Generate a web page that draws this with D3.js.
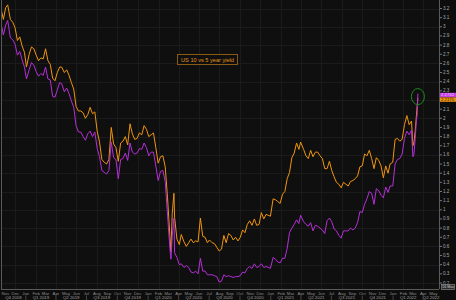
<!DOCTYPE html>
<html><head><meta charset="utf-8">
<script src="https://cdn.jsdelivr.net/npm/d3@7"></script>
<style>html,body{margin:0;padding:0;background:#0d0d0d;overflow:hidden}svg{display:block}</style>
</head><body><svg id="c" width="456" height="300"></svg>
<script>
const title = "US 10 vs 5 year yield";
const dates = ["2018-10-19","2018-10-26","2018-11-02","2018-11-08","2018-11-16","2018-11-23","2018-11-30","2018-12-07","2018-12-14","2018-12-21","2018-12-28",
"2019-01-03","2019-01-11","2019-01-18","2019-01-25","2019-02-01","2019-02-08","2019-02-15","2019-02-22","2019-03-01","2019-03-08","2019-03-15","2019-03-22","2019-03-29",
"2019-04-05","2019-04-12","2019-04-18","2019-04-26","2019-05-03","2019-05-10","2019-05-17","2019-05-24","2019-05-31","2019-06-07","2019-06-14","2019-06-21","2019-06-28",
"2019-07-05","2019-07-12","2019-07-19","2019-07-26","2019-08-02","2019-08-09","2019-08-16","2019-08-23","2019-08-30","2019-09-06","2019-09-13","2019-09-20","2019-09-27",
"2019-10-04","2019-10-11","2019-10-18","2019-10-25","2019-11-01","2019-11-08","2019-11-15","2019-11-22","2019-11-29","2019-12-06","2019-12-13","2019-12-20","2019-12-27",
"2020-01-03","2020-01-10","2020-01-17","2020-01-24","2020-01-31","2020-02-07","2020-02-14","2020-02-21","2020-02-28","2020-03-06","2020-03-09","2020-03-13","2020-03-18","2020-03-20","2020-03-27",
"2020-04-03","2020-04-09","2020-04-17","2020-04-24","2020-05-01","2020-05-08","2020-05-15","2020-05-22","2020-05-29","2020-06-05","2020-06-12","2020-06-19","2020-06-26",
"2020-07-02","2020-07-10","2020-07-17","2020-07-24","2020-07-31","2020-08-07","2020-08-14","2020-08-21","2020-08-28","2020-09-04","2020-09-11","2020-09-18","2020-09-25",
"2020-10-02","2020-10-09","2020-10-16","2020-10-23","2020-10-30","2020-11-06","2020-11-13","2020-11-20","2020-11-27","2020-12-04","2020-12-11","2020-12-18","2020-12-24","2020-12-31",
"2021-01-08","2021-01-15","2021-01-22","2021-01-29","2021-02-05","2021-02-12","2021-02-19","2021-02-26","2021-03-05","2021-03-12","2021-03-19","2021-03-26","2021-03-31",
"2021-04-09","2021-04-16","2021-04-23","2021-04-30","2021-05-07","2021-05-14","2021-05-21","2021-05-28","2021-06-04","2021-06-11","2021-06-18","2021-06-25",
"2021-07-02","2021-07-09","2021-07-16","2021-07-23","2021-07-30","2021-08-06","2021-08-13","2021-08-20","2021-08-27","2021-09-03","2021-09-10","2021-09-17","2021-09-24",
"2021-10-01","2021-10-08","2021-10-15","2021-10-22","2021-10-29","2021-11-05","2021-11-12","2021-11-19","2021-11-26","2021-12-03","2021-12-10","2021-12-17","2021-12-23","2021-12-31",
"2022-01-07","2022-01-14","2022-01-21","2022-01-28","2022-02-04","2022-02-11","2022-02-18","2022-02-25","2022-03-01","2022-03-04","2022-03-08","2022-03-11","2022-03-14","2022-03-16"];
const tenYear = [3.20,3.08,3.21,3.24,3.08,3.05,2.99,2.85,2.89,2.79,2.72,
2.56,2.70,2.78,2.76,2.69,2.63,2.66,2.65,2.76,2.63,2.59,2.44,2.41,
2.50,2.56,2.56,2.50,2.53,2.47,2.39,2.32,2.13,2.08,2.08,2.06,2.00,
2.04,2.12,2.05,2.07,1.86,1.74,1.55,1.52,1.50,1.55,1.90,1.72,1.68,
1.53,1.73,1.75,1.80,1.71,1.94,1.83,1.77,1.78,1.84,1.82,1.92,1.88,
1.80,1.82,1.84,1.68,1.51,1.58,1.59,1.47,1.13,0.71,0.54,0.96,1.18,0.92,0.68,
0.62,0.73,0.65,0.60,0.64,0.68,0.64,0.66,0.65,0.91,0.71,0.70,0.64,
0.67,0.64,0.63,0.59,0.55,0.57,0.72,0.64,0.74,0.72,0.67,0.70,0.66,
0.70,0.78,0.75,0.84,0.88,0.83,0.90,0.83,0.84,0.97,0.90,0.95,0.94,0.93,
1.12,1.11,1.09,1.07,1.17,1.20,1.34,1.41,1.57,1.62,1.73,1.66,1.74,
1.66,1.59,1.56,1.65,1.58,1.63,1.63,1.59,1.56,1.45,1.45,1.53,
1.43,1.36,1.30,1.28,1.24,1.30,1.28,1.26,1.31,1.32,1.34,1.37,1.47,
1.48,1.61,1.59,1.65,1.56,1.45,1.57,1.54,1.48,1.35,1.48,1.40,1.50,1.52,
1.77,1.78,1.75,1.77,1.93,2.03,1.93,1.97,1.70,1.73,1.86,2.00,2.14,2.22];
const fiveYear = [3.04,2.91,3.02,3.07,2.88,2.86,2.81,2.69,2.73,2.64,2.56,
2.43,2.53,2.61,2.58,2.51,2.46,2.49,2.47,2.56,2.43,2.42,2.24,2.23,
2.31,2.39,2.38,2.29,2.33,2.27,2.19,2.12,1.92,1.85,1.85,1.80,1.76,
1.83,1.86,1.80,1.85,1.67,1.58,1.43,1.41,1.39,1.43,1.74,1.57,1.55,
1.34,1.55,1.56,1.62,1.54,1.73,1.63,1.61,1.62,1.67,1.66,1.73,1.68,
1.59,1.63,1.63,1.48,1.32,1.42,1.43,1.31,0.94,0.58,0.46,0.72,0.91,0.53,0.48,
0.40,0.41,0.37,0.39,0.37,0.32,0.31,0.33,0.30,0.47,0.33,0.33,0.29,
0.29,0.29,0.28,0.27,0.21,0.22,0.29,0.27,0.28,0.27,0.26,0.27,0.27,
0.28,0.32,0.31,0.36,0.38,0.36,0.41,0.37,0.38,0.41,0.37,0.38,0.37,0.36,
0.48,0.46,0.43,0.42,0.47,0.47,0.58,0.75,0.80,0.84,0.89,0.85,0.94,
0.87,0.84,0.82,0.86,0.77,0.83,0.82,0.80,0.78,0.74,0.88,0.91,
0.87,0.79,0.77,0.72,0.69,0.77,0.77,0.77,0.80,0.78,0.80,0.86,0.98,
0.97,1.06,1.12,1.20,1.18,1.06,1.23,1.21,1.16,1.13,1.25,1.19,1.26,1.26,
1.50,1.55,1.56,1.61,1.78,1.86,1.82,1.87,1.58,1.60,1.78,1.95,2.05,2.27];
const yTicks = [0.2,0.3,0.4,0.5,0.6,0.7,0.8,0.9,1,1.1,1.2,1.3,1.4,1.5,1.6,1.7,1.8,1.9,2,2.1,2.2,2.3,2.4,2.5,2.6,2.7,2.8,2.9,3,3.1,3.2];
const monthNames = ["Jan","Feb","Mar","Apr","May","Jun","Jul","Aug","Sep","Oct","Nov","Dec"];
const lastLabels = ["2.2732","2.2175"];
const dateBox = "16 Mar";

const svg = d3.select("#c");
const W = 456, H = 300;
const parse = d3.timeParse("%Y-%m-%d");
const ds = dates.map(parse);
const x = d3.scaleTime().domain([parse("2018-10-19"), parse("2022-05-18")]).range([1, 439]);
const y = d3.scaleLinear().domain([0.2, 3.2]).range([283, 8.5]);
const plotB = 289, plotR = 439;

svg.append("rect").attr("width", W).attr("height", H).attr("fill", "#0d0d0d");
svg.append("rect").attr("x", 1).attr("y", 0).attr("width", plotR - 1).attr("height", plotB).attr("fill", "#0f0f0f");

// gridlines
const gridMonths = d3.timeMonth.range(parse("2018-11-01"), parse("2022-06-01")).filter(d => d.getMonth() % 2 === 1);
svg.append("g").selectAll("line").data(gridMonths).join("line")
  .attr("x1", d => Math.round(x(d)) + 0.5).attr("x2", d => Math.round(x(d)) + 0.5)
  .attr("y1", 0).attr("y2", plotB).attr("stroke", "#1b1b1b").attr("stroke-width", 1);
const gridY = yTicks.filter((d, i) => i % 2 === 0);
svg.append("g").selectAll("line").data(gridY).join("line")
  .attr("x1", 1).attr("x2", plotR).attr("y1", d => Math.round(y(d)) + 0.5).attr("y2", d => Math.round(y(d)) + 0.5)
  .attr("stroke", "#1b1b1b").attr("stroke-width", 1);

// lines
svg.append("clipPath").attr("id", "pc").append("rect").attr("x", 1).attr("y", 0).attr("width", plotR - 1).attr("height", plotB);
const line = (vals) => d3.line().x((d, i) => x(ds[i])).y(d => y(d))(vals);
svg.append("path").attr("d", line(tenYear)).attr("fill", "none").attr("stroke", "#f0950e").attr("stroke-width", 1).attr("clip-path", "url(#pc)");
svg.append("path").attr("d", line(fiveYear)).attr("fill", "none").attr("stroke", "#b52fd8").attr("stroke-width", 1).attr("clip-path", "url(#pc)");

// green circle at the last point
const lx = x(ds[ds.length - 1]), ly = y(fiveYear[fiveYear.length - 1]);
svg.append("ellipse").attr("cx", lx).attr("cy", ly + 3).attr("rx", 6.5).attr("ry", 8)
  .attr("fill", "none").attr("stroke", "#1f8a1f").attr("stroke-width", 1);

// title box
const tg = svg.append("g");
tg.append("rect").attr("x", 177.5).attr("y", 54.5).attr("width", 60).attr("height", 10).attr("fill", "#0f0f0f").attr("stroke", "#8a5a12").attr("stroke-width", 1);
tg.append("text").attr("x", 207.5).attr("y", 61.6).attr("text-anchor", "middle").attr("font-family", "Arial, 'Liberation Sans', sans-serif")
  .attr("font-size", 5.6).attr("fill", "#e39516").text(title);

// axes lines
svg.append("line").attr("x1", 1.5).attr("x2", 1.5).attr("y1", 0).attr("y2", plotB).attr("stroke", "#5a5a5a");
svg.append("line").attr("x1", 1).attr("x2", plotR).attr("y1", plotB + 0.5).attr("y2", plotB + 0.5).attr("stroke", "#5a5a5a");
svg.append("line").attr("x1", plotR + 0.5).attr("x2", plotR + 0.5).attr("y1", 0).attr("y2", plotB).attr("stroke", "#5a5a5a");

// right y axis ticks (the 2.2 label sits under the last-value boxes, as in the reference)
const ya = svg.append("g");
ya.selectAll("line").data(yTicks).join("line").attr("x1", plotR + 1).attr("x2", plotR + 3)
  .attr("y1", d => y(d)).attr("y2", d => y(d)).attr("stroke", "#777");
ya.selectAll("text").data(yTicks.filter(d => d !== 2.2)).join("text").attr("x", plotR + 4).attr("y", d => y(d) + 1.5)
  .attr("font-family", "Arial, 'Liberation Sans', sans-serif").attr("font-size", 4.6).attr("fill", "#a8a8a8")
  .text(d => d3.format("")(d));

// last value labels
const lab = svg.append("g").attr("font-family", "Arial, 'Liberation Sans', sans-serif").attr("font-size", 4.3);
lab.append("rect").attr("x", plotR + 1).attr("y", 92.8).attr("width", 17).attr("height", 4.4).attr("fill", "#c23ce6");
lab.append("text").attr("x", plotR + 2).attr("y", 96.4).attr("fill", "#f0d0ff").text(lastLabels[0]);
lab.append("rect").attr("x", plotR + 1).attr("y", 97.4).attr("width", 17).attr("height", 4.4).attr("fill", "#f0950e");
lab.append("text").attr("x", plotR + 2).attr("y", 101).attr("fill", "#2a1500").text(lastLabels[1]);

// date box bottom right
svg.append("rect").attr("x", 441.5).attr("y", 284.5).attr("width", 13).attr("height", 5).attr("fill", "#2a2a2a").attr("stroke", "#9a9a9a").attr("stroke-width", 0.6);
svg.append("text").attr("x", 448).attr("y", 288.4).attr("text-anchor", "middle").attr("font-family", "Arial, sans-serif").attr("font-size", 3.8).attr("fill", "#ddd").text(dateBox);

// bottom month labels
const months = d3.timeMonth.range(parse("2018-11-01"), parse("2022-06-01"));
const xa = svg.append("g").attr("font-family", "Arial, 'Liberation Sans', sans-serif");
xa.selectAll("text.m").data(months).join("text").attr("class", "m")
  .attr("x", d => x(d)).attr("y", 294.5).attr("text-anchor", "middle").attr("font-size", 4.3).attr("fill", "#8c8c8c")
  .text(d => monthNames[d.getMonth()]);
// quarter labels
const qStarts = d3.timeMonth.every(3).range(parse("2018-10-01"), parse("2022-07-01"));
const quarters = qStarts.map(q => {
  const a = Math.max(x(q), 1), b = Math.min(x(d3.timeMonth.offset(q, 3)), plotR);
  return {q, a, b};
});
xa.selectAll("text.q").data(quarters).join("text").attr("class", "q")
  .attr("x", d => (d.a + d.b) / 2).attr("y", 299.3).attr("text-anchor", "middle").attr("font-size", 4.3).attr("fill", "#a0a0a0")
  .text(d => "Q" + (Math.floor(d.q.getMonth() / 3) + 1) + " " + d.q.getFullYear());
xa.selectAll("line.qs").data(quarters.slice(1)).join("line").attr("class", "qs")
  .attr("x1", d => d.a).attr("x2", d => d.a).attr("y1", 295.5).attr("y2", 300).attr("stroke", "#444");
</script></body></html>
